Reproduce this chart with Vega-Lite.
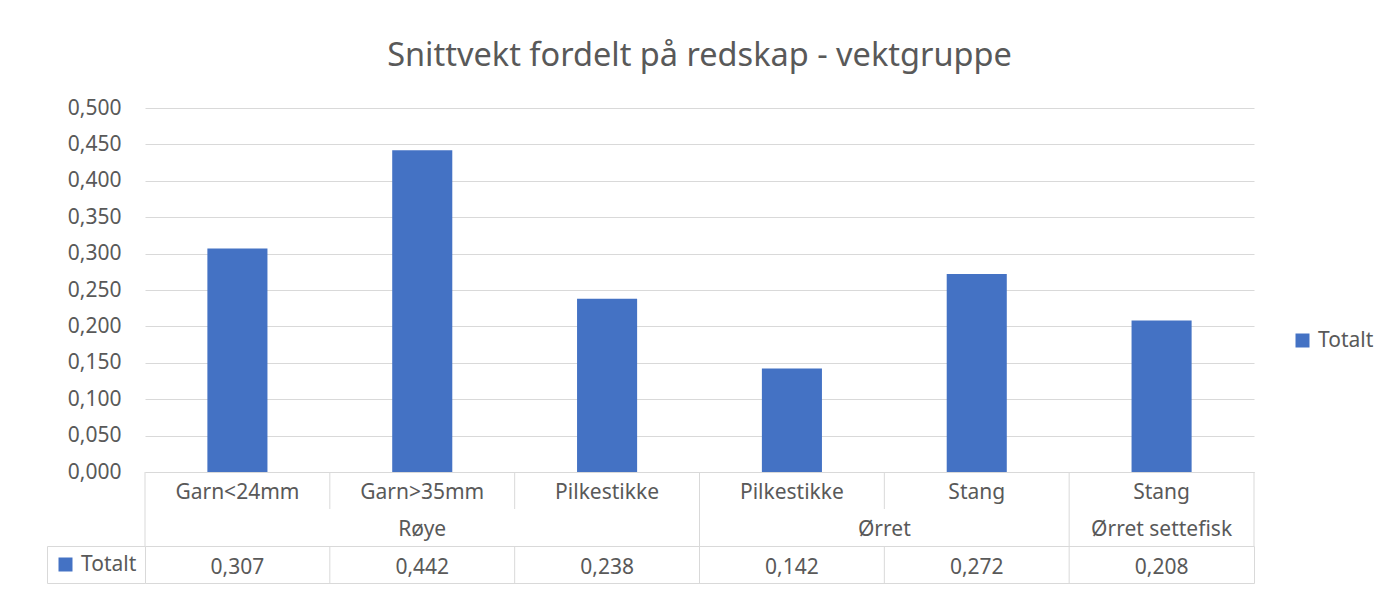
{
  "$schema": "https://vega.github.io/schema/vega-lite/v6.json",
  "background": "white",
  "padding": {"left": 46, "top": 39, "right": 5, "bottom": 5},
  "config": {
    "font": "Noto Sans",
    "view": {"stroke": null},
    "locale": {"number": {"decimal": ",", "thousands": " ", "grouping": [3], "currency": ["", " kr"]}},
    "text": {"font": "Noto Sans", "fontSize": 21, "color": "#595959", "dy": 2}
  },
  "datasets": {
    "rader": [
      {"art": "Røye", "redskap": "Garn<24mm", "kategori": "Røye / Garn<24mm", "serie": "Totalt", "snittvekt": 0.307},
      {"art": "Røye", "redskap": "Garn>35mm", "kategori": "Røye / Garn>35mm", "serie": "Totalt", "snittvekt": 0.442},
      {"art": "Røye", "redskap": "Pilkestikke", "kategori": "Røye / Pilkestikke", "serie": "Totalt", "snittvekt": 0.238},
      {"art": "Ørret", "redskap": "Pilkestikke", "kategori": "Ørret / Pilkestikke", "serie": "Totalt", "snittvekt": 0.142},
      {"art": "Ørret", "redskap": "Stang", "kategori": "Ørret / Stang", "serie": "Totalt", "snittvekt": 0.272},
      {"art": "Ørret settefisk", "redskap": "Stang", "kategori": "Ørret settefisk / Stang", "serie": "Totalt", "snittvekt": 0.208}
    ]
  },
  "data": {"name": "rader"},
  "spacing": 0,
  "bounds": "flush",
  "resolve": {"scale": {"x": "independent", "color": "independent"}, "legend": {"color": "independent"}},
  "vconcat": [
    {
      "width": 1109,
      "height": 364,
      "title": {"text": "Snittvekt fordelt på redskap - vektgruppe", "fontSize": 32.5, "fontWeight": "normal", "color": "#595959", "anchor": "middle", "frame": "group", "offset": 25},
      "mark": {"type": "bar"},
      "encoding": {
        "x": {"field": "kategori", "type": "nominal", "sort": null,
          "scale": {"paddingInner": 0.675, "paddingOuter": 0.3375},
          "axis": {"labels": false, "ticks": false, "title": null, "grid": false, "domainColor": "#d9d9d9"}},
        "y": {"field": "snittvekt", "type": "quantitative",
          "scale": {"domain": [0, 0.5], "nice": false},
          "axis": {"values": [0, 0.05, 0.1, 0.15, 0.2, 0.25, 0.3, 0.35, 0.4, 0.45, 0.5], "format": ".3f", "title": null, "domain": false, "ticks": false, "gridColor": "#d9d9d9", "labelFontSize": 21, "labelColor": "#595959", "labelPadding": 24}},
        "color": {"field": "serie", "type": "nominal", "scale": {"range": ["#4472c4"]},
          "legend": {"title": null, "orient": "none", "legendX": 1147, "legendY": 222, "symbolType": "square", "symbolSize": 196, "symbolStrokeWidth": 0, "labelFontSize": 21, "labelColor": "#595959", "labelOffset": 5}}
      }
    },
    {
      "width": 1109,
      "height": 37,
      "layer": [
        {
          "mark": {"type": "text"},
          "encoding": {
            "x": {"field": "kategori", "type": "nominal", "sort": null, "scale": {"domain": ["Røye / Garn<24mm", "Røye / Garn>35mm", "Røye / Pilkestikke", "Ørret / Pilkestikke", "Ørret / Stang", "Ørret settefisk / Stang"], "paddingInner": 0, "paddingOuter": 0}, "axis": null},
            "text": {"field": "redskap"}
          }
        },
        {
          "mark": {"type": "rule", "color": "#d9d9d9", "strokeWidth": 1},
          "encoding": {
            "x": {"field": "kategori", "type": "nominal", "sort": null, "bandPosition": 0, "axis": null}
          }
        },
        {
          "transform": [{"filter": {"field": "kategori", "equal": "Ørret settefisk / Stang"}}],
          "mark": {"type": "rule", "color": "#d9d9d9", "strokeWidth": 1},
          "encoding": {
            "x": {"field": "kategori", "type": "nominal", "sort": null, "bandPosition": 1, "axis": null}
          }
        }
      ]
    },
    {
      "width": 1109,
      "height": 37,
      "layer": [
        {
          "transform": [{"filter": {"field": "kategori", "oneOf": ["Røye / Garn>35mm", "Ørret settefisk / Stang"]}}],
          "mark": {"type": "text"},
          "encoding": {
            "x": {"field": "kategori", "type": "nominal", "sort": null, "scale": {"domain": ["Røye / Garn<24mm", "Røye / Garn>35mm", "Røye / Pilkestikke", "Ørret / Pilkestikke", "Ørret / Stang", "Ørret settefisk / Stang"], "paddingInner": 0, "paddingOuter": 0}, "axis": null},
            "text": {"field": "art"}
          }
        },
        {
          "transform": [{"filter": {"field": "kategori", "equal": "Ørret / Stang"}}],
          "mark": {"type": "text"},
          "encoding": {
            "x": {"field": "kategori", "type": "nominal", "sort": null, "bandPosition": 0, "axis": null},
            "text": {"field": "art"}
          }
        },
        {
          "transform": [{"filter": {"field": "kategori", "oneOf": ["Røye / Garn<24mm", "Ørret / Pilkestikke", "Ørret settefisk / Stang"]}}],
          "mark": {"type": "rule", "color": "#d9d9d9", "strokeWidth": 1},
          "encoding": {
            "x": {"field": "kategori", "type": "nominal", "sort": null, "bandPosition": 0, "axis": null}
          }
        },
        {
          "transform": [{"filter": {"field": "kategori", "equal": "Ørret settefisk / Stang"}}],
          "mark": {"type": "rule", "color": "#d9d9d9", "strokeWidth": 1},
          "encoding": {
            "x": {"field": "kategori", "type": "nominal", "sort": null, "bandPosition": 1, "axis": null}
          }
        }
      ]
    },
    {
      "width": 1109,
      "height": 37,
      "view": {"stroke": "#d9d9d9"},
      "layer": [
        {
          "mark": {"type": "text", "dy": 3},
          "encoding": {
            "x": {"field": "kategori", "type": "nominal", "sort": null, "scale": {"domain": ["Røye / Garn<24mm", "Røye / Garn>35mm", "Røye / Pilkestikke", "Ørret / Pilkestikke", "Ørret / Stang", "Ørret settefisk / Stang"], "paddingInner": 0, "paddingOuter": 0}, "axis": null},
            "text": {"field": "snittvekt", "type": "quantitative", "format": ".3f"}
          }
        },
        {
          "mark": {"type": "rule", "color": "#d9d9d9", "strokeWidth": 1},
          "encoding": {
            "x": {"field": "kategori", "type": "nominal", "sort": null, "bandPosition": 0, "axis": null}
          }
        },
        {
          "mark": {"type": "point", "shape": "square", "filled": true, "opacity": 0},
          "encoding": {
            "x": {"field": "kategori", "type": "nominal", "sort": null, "axis": null},
            "color": {"field": "serie", "type": "nominal", "scale": {"range": ["#4472c4"]},
              "legend": {"title": null, "orient": "left", "offset": 0, "padding": 8, "strokeColor": "#d9d9d9", "fillColor": "white", "symbolType": "square", "symbolSize": 196, "symbolStrokeWidth": 0, "symbolOpacity": 1, "labelFontSize": 21, "labelColor": "#595959", "labelOffset": 5}}
          }
        }
      ]
    }
  ]
}
